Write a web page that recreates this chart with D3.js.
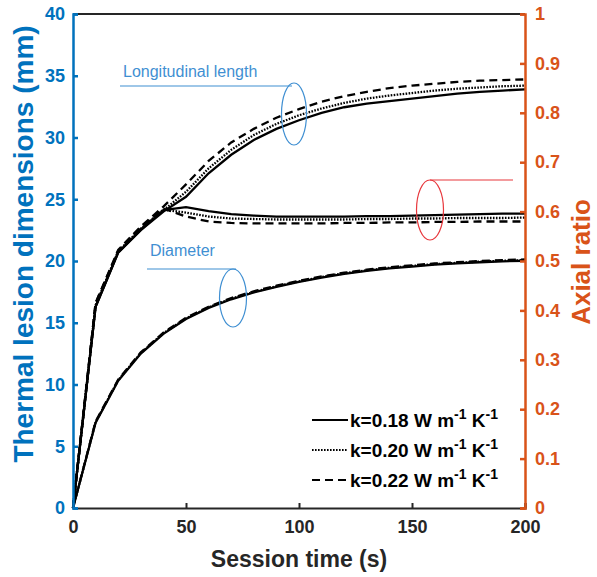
<!DOCTYPE html>
<html>
<head>
<meta charset="utf-8">
<script src="https://cdn.jsdelivr.net/npm/d3@7"></script>
<style>
  body { margin: 0; background: #fff; }
  text { font-family: Arial, "Liberation Sans", sans-serif; }
</style>
</head>
<body>
<div id="chart"></div>
<script>
// session time (s)
var time = [0,10,20,30,40,50,60,70,80,90,100,110,120,130,140,150,160,170,180,190,200];

// longitudinal length (mm)
var lengthK018 = [0,16.3,20.7,22.5,24.0,25.2,27.1,28.6,29.8,30.7,31.4,32.0,32.45,32.75,32.95,33.15,33.35,33.55,33.7,33.8,33.9];
var lengthK020 = [0,16.4,20.8,22.6,24.1,25.6,27.5,29.0,30.2,31.1,31.8,32.35,32.8,33.15,33.4,33.6,33.8,33.95,34.05,34.15,34.2];
var lengthK022 = [0,16.6,20.9,22.8,24.4,26.2,28.1,29.6,30.7,31.6,32.3,32.9,33.35,33.7,34.0,34.2,34.35,34.5,34.6,34.65,34.7];

// diameter (mm)
var diamK018 = [0,6.9,10.3,12.5,14.1,15.3,16.2,16.9,17.45,17.9,18.3,18.65,18.95,19.2,19.4,19.55,19.7,19.8,19.9,19.97,20.02];
var diamK020 = [0,6.95,10.35,12.55,14.15,15.35,16.25,16.95,17.5,17.95,18.35,18.7,19.0,19.25,19.45,19.6,19.75,19.85,19.95,20.02,20.07];
var diamK022 = [0,7.0,10.4,12.6,14.2,15.4,16.3,17.0,17.55,18.0,18.4,18.75,19.05,19.3,19.5,19.65,19.8,19.9,20.0,20.07,20.12];

// axial ratio (right axis)
var ratioK018 = [0,0.4075,0.517,0.563,0.603,0.609,0.601,0.595,0.592,0.590,0.590,0.590,0.590,0.591,0.591,0.592,0.593,0.594,0.595,0.596,0.596];
var ratioK020 = [0,0.41,0.518,0.565,0.604,0.598,0.590,0.586,0.585,0.584,0.584,0.584,0.584,0.585,0.585,0.586,0.586,0.587,0.587,0.587,0.588];
var ratioK022 = [0,0.415,0.52,0.568,0.606,0.590,0.580,0.577,0.576,0.576,0.576,0.576,0.577,0.577,0.578,0.578,0.579,0.579,0.580,0.580,0.580];

var xTicks = [0,50,100,150,200];
var yLeftTicks = [0,5,10,15,20,25,30,35,40];
var yRightTicks = [0,0.1,0.2,0.3,0.4,0.5,0.6,0.7,0.8,0.9,1];

var legendLabels = ["k=0.18", "k=0.20", "k=0.22"];

var width = 597, height = 577;
var margin = {left: 73, right: 72, top: 14, bottom: 69};

var blue = "#0072BD", orange = "#D95319", dark = "#262626";
var annoBlue = "#3f8fd2", annoRed = "#e8383d";

var svg = d3.select("#chart").append("svg")
    .attr("width", width)
    .attr("height", height);

svg.append("rect").attr("width", width).attr("height", height).attr("fill", "#fff");

var x = d3.scaleLinear().domain([0, 200]).range([margin.left, width - margin.right]);
var yL = d3.scaleLinear().domain([0, 40]).range([height - margin.bottom, margin.top]);
var yR = d3.scaleLinear().domain([0, 1]).range([height - margin.bottom, margin.top]);

// dash styles for the three conductivities
var styles = [
    {dash: null},
    {dash: "1.6,1.4"},
    {dash: "8,5"}
];

function drawCurve(vals, scale, st) {
    var line = d3.line()
	.x(function(d, i) { return x(time[i]); })
	.y(function(d) { return scale(d); });
    svg.append("path")
	.datum(vals)
	.attr("d", line)
	.attr("fill", "none")
	.attr("stroke", "#000")
	.attr("stroke-width", 2.3)
	.attr("stroke-dasharray", st.dash);
}

[diamK018, diamK020, diamK022].forEach(function(v, i) { drawCurve(v, yL, styles[i]); });
[ratioK018, ratioK020, ratioK022].forEach(function(v, i) { drawCurve(v, yR, styles[i]); });
[lengthK018, lengthK020, lengthK022].forEach(function(v, i) { drawCurve(v, yL, styles[i]); });

// top box line
svg.append("line")
    .attr("x1", x(0)).attr("x2", x(200))
    .attr("y1", yL(40)).attr("y2", yL(40))
    .attr("stroke", dark).attr("stroke-width", 2);

// bottom axis
var xAxis = svg.append("g")
    .attr("transform", "translate(0," + yL(0) + ")")
    .call(d3.axisBottom(x).tickValues(xTicks).tickSize(-5).tickPadding(12).tickFormat(d3.format("d")));
xAxis.select(".domain").attr("stroke", dark).attr("stroke-width", 2.2);
xAxis.selectAll(".tick line").attr("stroke", dark).attr("stroke-width", 2);
xAxis.selectAll(".tick text").attr("fill", dark).style("font-size", "18px").style("font-weight", "bold");

// left axis
var lAxis = svg.append("g")
    .attr("transform", "translate(" + x(0) + ",0)")
    .call(d3.axisLeft(yL).tickValues(yLeftTicks).tickSize(-5).tickPadding(8));
lAxis.select(".domain").attr("stroke", blue).attr("stroke-width", 2.5);
lAxis.selectAll(".tick line").attr("stroke", blue).attr("stroke-width", 2.5);
lAxis.selectAll(".tick text").attr("fill", blue).style("font-size", "18px").style("font-weight", "bold");

// right axis
var rAxis = svg.append("g")
    .attr("transform", "translate(" + x(200) + ",0)")
    .call(d3.axisRight(yR).tickValues(yRightTicks).tickSize(-5).tickPadding(10).tickFormat(function(d) { return d3.format("")(+d.toFixed(1)); }));
rAxis.select(".domain").attr("stroke", orange).attr("stroke-width", 2.5);
rAxis.selectAll(".tick line").attr("stroke", orange).attr("stroke-width", 2.5);
rAxis.selectAll(".tick text").attr("fill", orange).style("font-size", "18px").style("font-weight", "bold");

// axis titles
svg.append("text")
    .attr("x", (x(0) + x(200)) / 2).attr("y", 567)
    .attr("text-anchor", "middle")
    .attr("fill", dark)
    .style("font-size", "23px").style("font-weight", "bold")
    .text("Session time (s)");

svg.append("text")
    .attr("transform", "translate(33,244) rotate(-90)")
    .attr("text-anchor", "middle")
    .attr("fill", blue)
    .style("font-size", "28px").style("font-weight", "bold")
    .text("Thermal lesion dimensions (mm)");

svg.append("text")
    .attr("transform", "translate(590,262) rotate(-90)")
    .attr("text-anchor", "middle")
    .attr("fill", orange)
    .style("font-size", "26px").style("font-weight", "bold")
    .text("Axial ratio");

// annotations
function annotate(label, color, lineX1, lineX2, lineY, cx, cy, rx, ry, tx, ty) {
    svg.append("line")
	.attr("x1", lineX1).attr("x2", lineX2)
	.attr("y1", lineY).attr("y2", lineY)
	.attr("stroke", color).attr("stroke-width", 1.2);
    svg.append("ellipse")
	.attr("cx", cx).attr("cy", cy).attr("rx", rx).attr("ry", ry)
	.attr("fill", "none").attr("stroke", color).attr("stroke-width", 1.2);
    if (label) {
	svg.append("text")
	    .attr("x", tx).attr("y", ty)
	    .attr("fill", color)
	    .style("font-size", "16px")
	    .text(label);
    }
}
annotate("Longitudinal length", annoBlue, 120, 292, 86, 294, 114, 12.5, 31, 123, 77);
annotate("Diameter", annoBlue, 147, 236, 269, 233, 298, 13.5, 29, 150, 256);
annotate(null, annoRed, 430, 513, 180, 430, 210, 13.5, 30);

// legend
var leg = svg.append("g");
legendLabels.forEach(function(lbl, i) {
    var ly = 420 + i * 30;
    leg.append("line")
	.attr("x1", 312).attr("x2", 348)
	.attr("y1", ly).attr("y2", ly)
	.attr("stroke", "#000").attr("stroke-width", 2)
	.attr("stroke-dasharray", styles[i].dash);
    var t = leg.append("text")
	.attr("x", 350).attr("y", ly + 7)
	.attr("fill", "#000")
	.style("font-size", "19px").style("font-weight", "bold");
    t.append("tspan").text(lbl + " W m");
    t.append("tspan").attr("dy", -8).style("font-size", "14px").text("-1");
    t.append("tspan").attr("dy", 8).text(" K");
    t.append("tspan").attr("dy", -8).style("font-size", "14px").text("-1");
});
</script>
</body>
</html>
